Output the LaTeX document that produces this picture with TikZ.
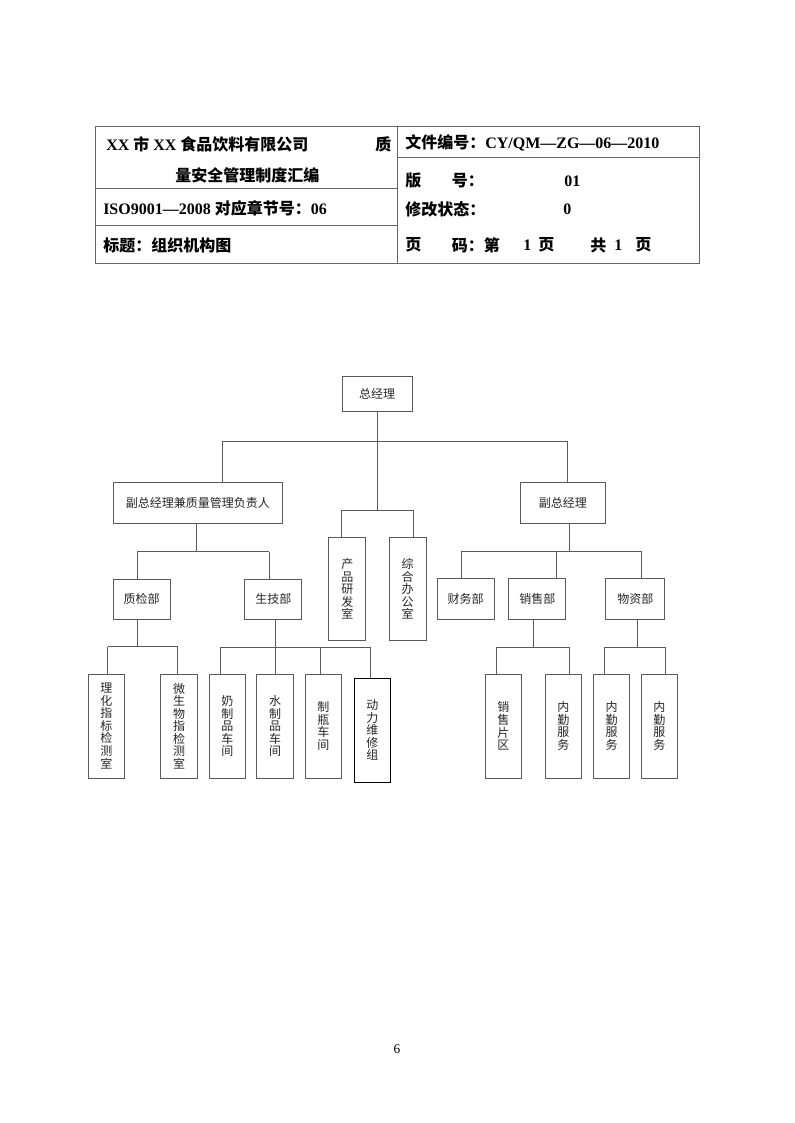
\documentclass[tikz,border=0pt]{standalone}
\usepackage{fontspec}
\setmainfont{Liberation Serif}
\newfontfamily\zh{Noto Sans CJK SC}
\newcommand{\zhb}[1]{{\zh\bfseries #1}}
\begin{document}
\begin{tikzpicture}[x=0.75pt,y=-0.75pt,
  hdr/.style={anchor=west,inner sep=0pt,font=\fontsize{12}{14}\selectfont\bfseries},
  sz/.style 2 args={minimum width={#1*0.75pt},minimum height={#2*0.75pt}},
  box/.style={draw=black!65,line width=0.75pt,inner sep=0pt,align=center,
    font=\zh\fontsize{9}{9.4}\selectfont,text=black!85},
  conn/.style={draw=black!65,line width=0.75pt},
  tline/.style={draw=black!60,line width=0.75pt}]
\useasboundingbox[fill=white] (0,0) rectangle (794,1123);

% ---------- header table ----------
\draw[tline] (95,127) rectangle (699,263);
\draw[tline] (397,127) -- (397,263);
\draw[tline] (397,157.3) -- (699,157.3);
\draw[tline] (95,188.3) -- (397,188.3);
\draw[tline] (95,226) -- (397,226);

\node[hdr] (h1) at (106,144) {XX \zhb{市} XX \zhb{食品饮料有限公司}};
\node[hdr] (h1b) at (375,144) {\zhb{质}};
\node[hdr] (h2) at (175,175) {\zhb{量安全管理制度汇编}};
\node[hdr] (h3) at (103,208) {ISO9001—2008 \zhb{对应章节号：}06};
\node[hdr] (h4) at (103,245) {\zhb{标题：组织机构图}};

\node[hdr] (r1) at (405,143) {\zhb{文件编号：}CY/QM—ZG—06—2010};
\node[hdr] (r2a) at (405,181) {\zhb{版}};
\node[hdr] (r2b) at (451.7,181) {\zhb{号：}};
\node[hdr] (r2c) at (564,181) {01};
\node[hdr] (r3a) at (405,209) {\zhb{修改状态：}};
\node[hdr] (r3b) at (563,209) {0};
\node[hdr] (r4a) at (405,245) {\zhb{页}};
\node[hdr] (r4b) at (451.7,245) {\zhb{码：第}};
\node[hdr] (r4c) at (523,245) {1};
\node[hdr] (r4d) at (538,245) {\zhb{页}};
\node[hdr] (r4e) at (590,245) {\zhb{共}};
\node[hdr] (r4f) at (614,245) {1};
\node[hdr] (r4g) at (635,245) {\zhb{页}};

% ---------- org chart nodes ----------
\node[box,sz={70}{35}] (zjl) at (377,393.5) {总经理};
\node[box,sz={169}{41}] (fz1) at (197.8,503) {副总经理兼质量管理负责人};
\node[box,sz={84.3}{41}] (fz2) at (562.9,503) {副总经理};

\node[box,sz={56.7}{40}] (zj) at (141.7,599) {质检部};
\node[box,sz={56.7}{40}] (sj) at (273.3,599) {生技部};
\node[box,sz={36.7}{103.4}] (cp) at (347.3,589) {产\\品\\研\\发\\室};
\node[box,sz={36.7}{103.4}] (zh) at (407.7,589) {综\\合\\办\\公\\室};
\node[box,sz={56.7}{41}] (cw) at (465.7,598.8) {财务部};
\node[box,sz={56.7}{41}] (xs) at (537.3,598.8) {销售部};
\node[box,sz={59.3}{41}] (wz) at (635.3,598.8) {物资部};

\node[box,sz={36.5}{104}] (lh) at (106.3,726) {理\\化\\指\\标\\检\\测\\室};
\node[box,sz={36.5}{104}] (ws) at (179.2,726) {微\\生\\物\\指\\检\\测\\室};
\node[box,sz={36.5}{104}] (nz) at (227.4,726) {奶\\制\\品\\车\\间};
\node[box,sz={36.5}{104}] (sc) at (275,726) {水\\制\\品\\车\\间};
\node[box,sz={36.5}{104}] (zp) at (323.4,726) {制\\瓶\\车\\间};
\node[box,sz={36.5}{104},draw=black] (dl) at (372.4,730) {动\\力\\维\\修\\组};
\node[box,sz={36.5}{104}] (xp) at (503.4,726) {销\\售\\片\\区};
\node[box,sz={36.5}{104}] (nq1) at (563.4,726) {内\\勤\\服\\务};
\node[box,sz={36.5}{104}] (nq2) at (611.7,726) {内\\勤\\服\\务};
\node[box,sz={36.5}{104}] (nq3) at (659.4,726) {内\\勤\\服\\务};

% ---------- connectors ----------
% top level
\coordinate (tc) at (377,510);
\coordinate (tL) at (222,441.7);
\coordinate (tR) at (567.5,441.7);
\draw[conn] (zjl.south -| tc) -- (tc);
\draw[conn] (tL) -- (tR);
\draw[conn] (tL) -- (tL |- fz1.north);
\draw[conn] (tR) -- (tR |- fz2.north);
% centre offices
\coordinate (cL) at (341,510);
\coordinate (cR) at (413.3,510);
\draw[conn] (cL) -- (cR);
\draw[conn] (cL) -- (cL |- cp.north);
\draw[conn] (cR) -- (cR |- zh.north);
% left deputy
\coordinate (l0) at (196.7,551.7);
\coordinate (lL) at (137.3,551.7);
\coordinate (lR) at (269,551.7);
\draw[conn] (fz1.south -| l0) -- (l0);
\draw[conn] (lL) -- (lR);
\draw[conn] (lL) -- (lL |- zj.north);
\draw[conn] (lR) -- (lR |- sj.north);
% right deputy
\coordinate (d0) at (569.3,551);
\coordinate (dL) at (461,551);
\coordinate (dM) at (556.7,551);
\coordinate (dR) at (641.7,551);
\draw[conn] (fz2.south -| d0) -- (d0);
\draw[conn] (dL) -- (dR);
\draw[conn] (dL) -- (dL |- cw.north);
\draw[conn] (dM) -- (dM |- xs.north);
\draw[conn] (dR) -- (dR |- wz.north);
% quality inspection
\coordinate (q0) at (137.3,646.7);
\coordinate (qL) at (107.7,646.7);
\coordinate (qR) at (177.7,646.7);
\draw[conn] (zj.south -| q0) -- (q0);
\draw[conn] (qL) -- (qR);
\draw[conn] (qL) -- (qL |- lh.north);
\draw[conn] (qR) -- (qR |- ws.north);
% production
\coordinate (p0) at (275.7,647);
\coordinate (p1) at (220.7,647);
\coordinate (p3) at (320,647);
\coordinate (p4) at (370.7,647);
\draw[conn] (sj.south -| p0) -- (p0);
\draw[conn] (p1) -- (p4);
\draw[conn] (p1) -- (p1 |- nz.north);
\draw[conn] (p0) -- (p0 |- sc.north);
\draw[conn] (p3) -- (p3 |- zp.north);
\draw[conn] (p4) -- (p4 |- dl.north);
% sales
\coordinate (s0) at (533.3,647);
\coordinate (sL) at (496.7,647);
\coordinate (sR) at (569.3,647);
\draw[conn] (xs.south -| s0) -- (s0);
\draw[conn] (sL) -- (sR);
\draw[conn] (sL) -- (sL |- xp.north);
\draw[conn] (sR) -- (sR |- nq1.north);
% materials
\coordinate (m0) at (637.3,647);
\coordinate (mL) at (604.7,647);
\coordinate (mR) at (665.7,647);
\draw[conn] (wz.south -| m0) -- (m0);
\draw[conn] (mL) -- (mR);
\draw[conn] (mL) -- (mL |- nq2.north);
\draw[conn] (mR) -- (mR |- nq3.north);

% page number
\node[inner sep=0pt,font=\fontsize{10}{12}\selectfont] (pg) at (397,1049) {6};
\end{tikzpicture}
\end{document}
